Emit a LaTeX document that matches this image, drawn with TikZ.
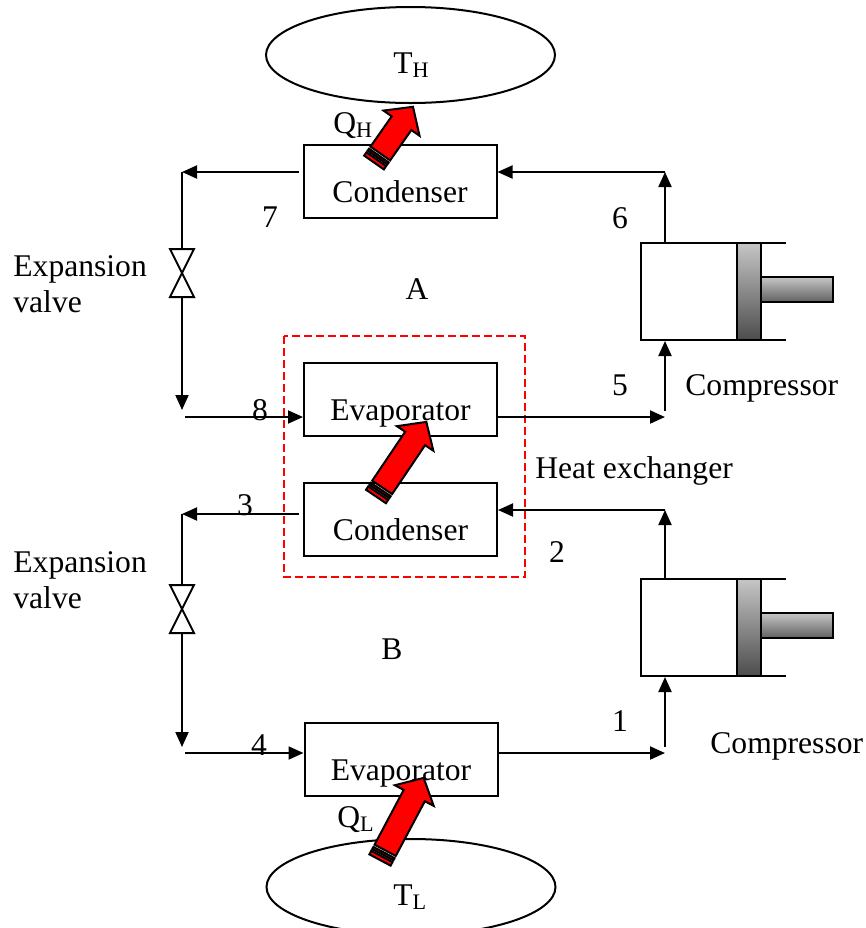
\documentclass[tikz,border=0pt]{standalone}
\usepackage{fontspec}
\setmainfont{Liberation Serif}
\usetikzlibrary{arrows.meta,shapes.geometric}

\tikzset{
  pipe/.style={line width=1pt},
  flow/.style={pipe, -{Triangle[length=7.5pt,width=6.5pt]}},
  unit/.style={draw, line width=1pt, inner sep=0pt, minimum width=96.5pt, text height=28.75pt, text depth=7.75pt},
  cyl/.style={draw, line width=1pt, inner sep=0pt, minimum width=48pt, minimum height=48.5pt},
  res/.style={draw, ellipse, line width=1pt, inner sep=0pt, minimum width=144.5pt, minimum height=48pt},
  heat/.style={fill=red, draw=black, line width=1pt, line join=miter},
  lbl/.style={inner sep=0pt},
}

% block arrow for heat: tail, angle, length
\newcommand{\heatflow}[3]{%
  \begin{scope}[shift={#1}, rotate=#2]
    \filldraw[heat] (0,-12) rectangle (4,12);
    \filldraw[heat] (6,-12) rectangle (8.5,12);
    \filldraw[heat] (11,-12) -- (#3-20,-12) -- (#3-20,-22) -- (#3,0) -- (#3-20,22) -- (#3-20,12) -- (11,12) -- cycle;
  \end{scope}}

\begin{document}
\begin{tikzpicture}[x=0.5pt, y=-0.5pt, font=\fontsize{15.8}{18}\selectfont]
  \useasboundingbox (0,0) rectangle (866,928);
  \clip (0,0) rectangle (866,928);

  % reservoirs
  \node[res] (hot) at (410.5,55) {};
  \node[lbl, anchor=base west] (TH) at (393,73) {T\textsubscript{H}};
  \node[res] (cold) at (411,887) {};
  \node[lbl, anchor=base west] (TL) at (393,905) {T\textsubscript{L}};

  % condensers and evaporators
  \node[unit] (condA) at (400,181.5) {Condenser};
  \node[unit] (evapA) at (400.5,399) {Evaporator};
  \node[unit] (condB) at (400.5,519) {Condenser};
  \node[unit] (evapB) at (401,759.5) {Evaporator};

  % heat exchanger
  \draw[red, line width=1pt, dash pattern=on 4pt off 2pt] (284,336) rectangle (525,577);

  % compressors
  \foreach \yc/\nm in {243/compA, 579/compB}{
    \node[cyl] (\nm) at (689,\yc+48.5) {};
    \draw[pipe] (641,\yc) -- (786,\yc) (641,\yc+97) -- (786,\yc+97);
    \shade[top color=gray!45, bottom color=black!70] (737,\yc) rectangle (761,\yc+97);
    \draw[pipe] (737,\yc) rectangle (761,\yc+97);
    \shade[top color=gray!45, bottom color=black!62] (761,\yc+34) rectangle (833,\yc+59);
    \draw[pipe] (761,\yc+34) rectangle (833,\yc+59);
  }

  % cycle A
  \coordinate (c6) at (665,172);
  \coordinate (c7) at (182,172);
  \coordinate (vAin) at (182,249);
  \coordinate (vAout) at (182,297);
  \coordinate (c8) at (182,410);
  \coordinate (s8) at (185,417);
  \coordinate (c5) at (665,417);
  \coordinate (s5) at (665,411);
  \draw[flow] (c6 |- compA.north) -- (c6);
  \draw[flow] (c6) -- (condA.east |- c6);
  \draw[flow, shorten <=2pt] (condA.west |- c7) -- (c7);
  \draw[pipe] (c7) -- (vAin);
  \draw[flow] (vAout) -- (c8);
  \draw[flow] (s8) -- (evapA.west |- s8);
  \draw[flow] (evapA.east |- c5) -- (c5);
  \draw[flow] (s5) -- (s5 |- compA.south);

  % cycle B
  \coordinate (c2) at (665,510);
  \coordinate (c3) at (182,514);
  \coordinate (vBin) at (182,585);
  \coordinate (vBout) at (182,633);
  \coordinate (c4) at (182,747);
  \coordinate (s4) at (185,753);
  \coordinate (c1) at (665,753);
  \coordinate (s1) at (665,747);
  \draw[flow] (c2 |- compB.north) -- (c2);
  \draw[flow] (c2) -- (condB.east |- c2);
  \draw[flow, shorten <=2pt] (condB.west |- c3) -- (c3);
  \draw[pipe] (c3) -- (vBin);
  \draw[flow] (vBout) -- (c4);
  \draw[flow] (s4) -- (evapB.west |- s4);
  \draw[flow] (evapB.east |- c1) -- (c1);
  \draw[flow] (s1) -- (s1 |- compB.south);

  % expansion valves
  \foreach \v in {vAin, vBin}
    \draw[pipe, fill=white] (\v) ++(-12,0) -- ++(24,0) -- ++(-24,48) -- ++(24,0) -- cycle;

  % state points
  \foreach \n/\x/\y in {1/620/731, 2/557/562, 3/245/515, 4/259/755, 5/620/395, 6/620/228, 7/270/227, 8/260/420}
    \node[lbl, anchor=base] (p\n) at (\x,\y) {\n};

  % labels
  \node[lbl, anchor=base] (cycA) at (417,299) {A};
  \node[lbl, anchor=base] (cycB) at (392,659) {B};
  \node[lbl, anchor=base west, align=left] (valveA) at (13,312) {Expansion\\valve};
  \node[lbl, anchor=base west, align=left] (valveB) at (13,608) {Expansion\\valve};
  \node[lbl, anchor=base west] (hx) at (535,478) {Heat exchanger};
  \node[lbl, anchor=base west] (compAtxt) at (685,395) {Compressor};
  \node[lbl, anchor=base west] (compBtxt) at (710,753) {Compressor};
  \node[lbl, anchor=base west] (QH) at (333,133) {Q\textsubscript{H}};
  \node[lbl, anchor=base west] (QL) at (337,827) {Q\textsubscript{L}};

  % heat flows
  \heatflow{(374,162.5)}{55}{68}
  \heatflow{(376,496.5)}{56}{90}
  \heatflow{(380,860)}{62}{93}
\end{tikzpicture}
\end{document}
